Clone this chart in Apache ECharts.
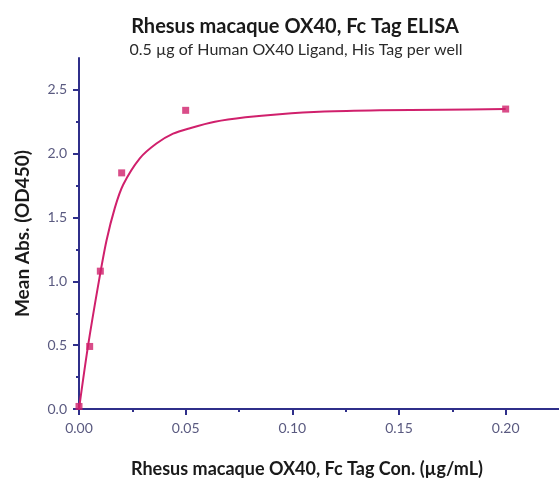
<!DOCTYPE html>
<html><head><meta charset="utf-8">
<script src="https://cdn.jsdelivr.net/npm/echarts@6/dist/echarts.min.js"></script>
<style>html,body{margin:0;padding:0;background:#fff}#c{width:559px;height:483px}</style>
</head><body><div id="c"></div>
<script>
// measured data points
const concentrations = [0, 0.005, 0.01, 0.02, 0.05, 0.2];
const meanAbs = [0.02, 0.49, 1.08, 1.85, 2.34, 2.35];
// fitted curve
const curveX = [0, 0.0042, 0.0091, 0.0129, 0.0168, 0.0207, 0.0285, 0.0363, 0.0441, 0.052, 0.0637, 0.078, 0.094, 0.115, 0.141, 0.17, 0.2];
const curveY = [0, 0.49, 0.98, 1.32, 1.576, 1.757, 1.964, 2.08, 2.157, 2.20, 2.25, 2.285, 2.31, 2.33, 2.34, 2.345, 2.35];
const xMajor = [0, 0.05, 0.10, 0.15, 0.20];
const xMinor = [0.025, 0.075, 0.125, 0.175];
const yMajor = [0, 0.5, 1.0, 1.5, 2.0, 2.5];
const yMinor = [0.25, 0.75, 1.25, 1.75, 2.25];

const axisColor = '#2f2f8a';
const labelColor = '#5a5a80';
const markColor = '#d0206c';
const font = 'Lato';

const chart = echarts.init(document.getElementById('c'));
chart.setOption({
  animation: false,
  title: [
    {text: 'Rhesus macaque OX40, Fc Tag ELISA', left: 290, top: 12, textAlign: 'center',
     textStyle: {fontFamily: font, fontWeight: 'bold', fontSize: 20, color: '#1a1a1a'}},
    {text: '0.5 µg of Human OX40 Ligand, His Tag per well', left: 291, top: 37, textAlign: 'center',
     textStyle: {fontFamily: font, fontWeight: 'normal', fontSize: 16, color: '#2a2a2a'}}
  ],
  grid: {left: 79, right: 0, top: 58, bottom: 69, containLabel: false},
  xAxis: [{
    type: 'value', min: 0, max: 0.225,
    name: 'Rhesus macaque OX40, Fc Tag Con. (µg/mL)', nameLocation: 'middle', nameGap: 51,
    nameTextStyle: {fontFamily: font, fontWeight: 'bold', fontSize: 18, color: '#1a1a1a', padding: [0, 24, 0, 0]},
    axisLine: {show: true, lineStyle: {color: axisColor, width: 2}},
    axisTick: {show: true, customValues: xMajor, length: 6, lineStyle: {color: axisColor, width: 2}},
    axisLabel: {customValues: xMajor, color: labelColor, fontFamily: font, fontSize: 14, margin: 12,
      formatter: v => v.toFixed(2)},
    splitLine: {show: false}
  }, {
    type: 'value', min: 0, max: 0.225, position: 'bottom',
    axisLine: {show: false},
    axisTick: {show: true, customValues: xMinor, length: 3, lineStyle: {color: axisColor, width: 2}},
    axisLabel: {show: false}, splitLine: {show: false}
  }],
  yAxis: [{
    type: 'value', min: 0, max: 2.75,
    name: 'Mean Abs. (OD450)', nameLocation: 'middle', nameGap: 47,
    nameTextStyle: {fontFamily: font, fontWeight: 'bold', fontSize: 19, color: '#1a1a1a'},
    axisLine: {show: true, lineStyle: {color: axisColor, width: 2}},
    axisTick: {show: true, customValues: yMajor, length: 6, lineStyle: {color: axisColor, width: 2}},
    axisLabel: {customValues: yMajor, color: labelColor, fontFamily: font, fontSize: 14, margin: 12,
      formatter: v => v.toFixed(1)},
    splitLine: {show: false}
  }, {
    type: 'value', min: 0, max: 2.75, position: 'left',
    axisLine: {show: false},
    axisTick: {show: true, customValues: yMinor, length: 3, lineStyle: {color: axisColor, width: 2}},
    axisLabel: {show: false}, splitLine: {show: false}
  }],
  series: [
    {type: 'line', data: curveX.map((x, i) => [x, curveY[i]]), smooth: 0.3, showSymbol: false,
     lineStyle: {color: markColor, width: 2}, z: 2},
    {type: 'scatter', data: concentrations.map((x, i) => [x, meanAbs[i]]), symbol: 'rect', symbolSize: 7,
     itemStyle: {color: markColor}, z: 3}
  ]
});
</script></body></html>
